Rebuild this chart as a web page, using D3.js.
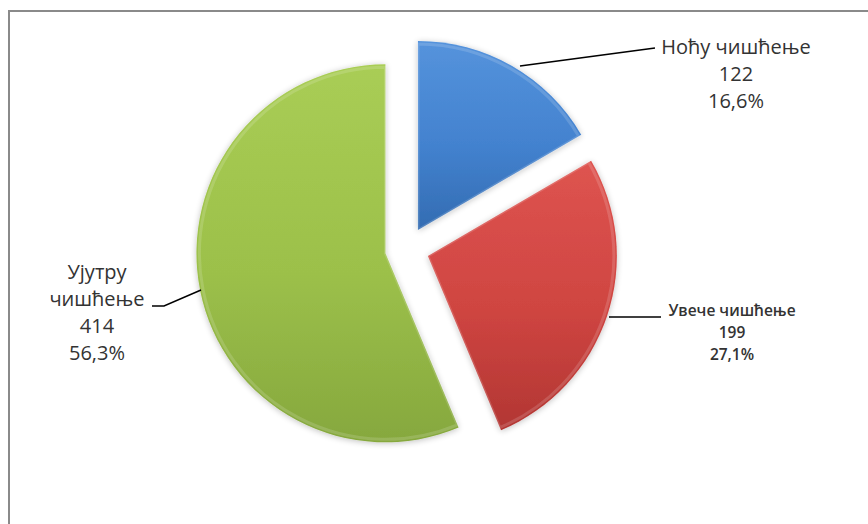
<!DOCTYPE html>
<html>
<head>
<meta charset="utf-8">
<script src="https://cdn.jsdelivr.net/npm/d3@7/dist/d3.min.js"></script>
<style>
  body { margin: 0; background: #fff; }
  text { font-family: "Open Sans", "Noto Sans", sans-serif; fill: #333; }
</style>
</head>
<body>
<script>
// data
const names = ["Ноћу чишћење", "Увече чишћење", "Ујутру чишћење"];
const values = [122, 199, 414];
const percents = ["16,6%", "27,1%", "56,3%"];

const w = 868, h = 524;
const cx = 407, cy = 249, r = 189, explode = 22;

const colors = [
  { light: "#5593dc", mid: "#4382cf", dark: "#336cb2" },
  { light: "#de5450", mid: "#cf4541", dark: "#b23633" },
  { light: "#a9cd55", mid: "#9cc04a", dark: "#86a83e" }
];

const svg = d3.select("body").append("svg")
  .attr("width", w)
  .attr("height", h);

const defs = svg.append("defs");
colors.forEach((c, i) => {
  const g = defs.append("linearGradient")
    .attr("id", "grad" + i)
    .attr("x1", 0).attr("y1", 0).attr("x2", 0).attr("y2", 1);
  g.append("stop").attr("offset", "0%").attr("stop-color", c.light);
  g.append("stop").attr("offset", "55%").attr("stop-color", c.mid);
  g.append("stop").attr("offset", "100%").attr("stop-color", c.dark);
});
const shadow = defs.append("filter").attr("id", "shadow")
  .attr("x", "-20%").attr("y", "-20%").attr("width", "140%").attr("height", "140%");
shadow.append("feGaussianBlur").attr("in", "SourceAlpha").attr("stdDeviation", 3).attr("result", "b");
shadow.append("feOffset").attr("in", "b").attr("dx", 0).attr("dy", 1).attr("result", "o");
shadow.append("feComponentTransfer").attr("in", "o").attr("result", "s")
  .append("feFuncA").attr("type", "linear").attr("slope", 0.25);
const merge = shadow.append("feMerge");
merge.append("feMergeNode").attr("in", "s");
merge.append("feMergeNode").attr("in", "SourceGraphic");

// frame (only top and left edges visible)
svg.append("path")
  .attr("d", `M9,${h} V11 H${w}`)
  .attr("fill", "none")
  .attr("stroke", "#8a8a8a")
  .attr("stroke-width", 2);

const pie = d3.pie().sort(null).value(d => d)(values);
const arc = d3.arc().innerRadius(0).outerRadius(r);
const bevel = d3.arc().innerRadius(0).outerRadius(r - 3);

const slices = svg.append("g").attr("transform", `translate(${cx},${cy})`)
  .selectAll("g")
  .data(pie)
  .enter()
  .append("g")
  .attr("transform", d => {
    const a = (d.startAngle + d.endAngle) / 2;
    return `translate(${explode * Math.sin(a)},${-explode * Math.cos(a)})`;
  });

slices.append("path")
  .attr("d", arc)
  .attr("fill", (d, i) => `url(#grad${i})`)
  .attr("filter", "url(#shadow)");

slices.append("path")
  .attr("d", bevel)
  .attr("fill", "none")
  .attr("stroke", "#ffffff")
  .attr("stroke-opacity", 0.15)
  .attr("stroke-width", 3);

// leader lines
const leaders = [
  [[520, 66], [655, 48]],
  [[609, 317], [661, 317]],
  [[201, 290], [164, 306], [152, 306]]
];
svg.selectAll(".leader")
  .data(leaders)
  .enter()
  .append("path")
  .attr("class", "leader")
  .attr("d", d3.line())
  .attr("fill", "none")
  .attr("stroke", "#000")
  .attr("stroke-width", 1.5);

// labels
const labels = [
  { x: 736, y: 54, size: 20, lines: [names[0], values[0], percents[0]], step: 27 },
  { x: 732, y: 316, size: 15.5, lines: [names[1], values[1], percents[1]], step: 22, bold: true },
  { x: 97, y: 279, size: 20, lines: ["Ујутру", "чишћење", values[2], percents[2]], step: 27 }
];
labels.forEach(l => {
  const t = svg.append("text")
    .attr("text-anchor", "middle")
    .attr("font-size", l.size)
    .attr("font-weight", l.bold ? 600 : 400);
  l.lines.forEach((s, i) => {
    t.append("tspan")
      .attr("x", l.x)
      .attr("y", l.y + i * l.step)
      .text(s);
  });
});
</script>
</body>
</html>
